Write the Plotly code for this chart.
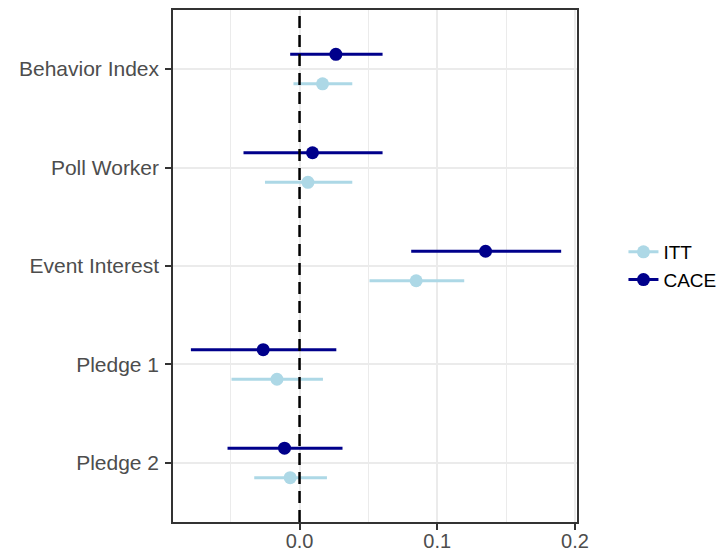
import plotly.graph_objects as go

# Outcomes, top to bottom
outcomes = ["Behavior Index", "Poll Worker", "Event Interest", "Pledge 1", "Pledge 2"]

# Intent-to-treat estimates and 95% intervals
itt_est = [0.0167, 0.0061, 0.0847, -0.0164, -0.0068]
itt_lo = [-0.0044, -0.0251, 0.0508, -0.0494, -0.0329]
itt_hi = [0.0383, 0.0383, 0.1196, 0.0170, 0.0199]

# Complier average causal effect estimates and 95% intervals
cace_est = [0.0264, 0.0094, 0.1351, -0.0264, -0.0109]
cace_lo = [-0.0068, -0.0407, 0.0811, -0.0789, -0.0523]
cace_hi = [0.0603, 0.0603, 0.1900, 0.0267, 0.0312]

x_ticks = [0.0, 0.1, 0.2]
x_tick_labels = ["0.0", "0.1", "0.2"]

ITT_COLOR = "#ADD8E6"
CACE_COLOR = "#00008B"
DODGE = 0.15
FONT_SIZE = 21

n = len(outcomes)
ypos = [n - 1 - i for i in range(n)]

fig = go.Figure()


def add_series(name, est, lo, hi, color, offset):
    ys = [y + offset for y in ypos]
    fig.add_trace(go.Scatter(
        x=est, y=ys, mode="markers", name=name, showlegend=False,
        marker=dict(color=color, size=13),
        error_x=dict(type="data", symmetric=False,
                     array=[h - e for h, e in zip(hi, est)],
                     arrayminus=[e - l for e, l in zip(est, lo)],
                     color=color, thickness=3, width=0),
    ))


add_series("CACE", cace_est, cace_lo, cace_hi, CACE_COLOR, DODGE)
add_series("ITT", itt_est, itt_lo, itt_hi, ITT_COLOR, -DODGE)

# legend keys (line + point)
for name, color in [("ITT", ITT_COLOR), ("CACE", CACE_COLOR)]:
    fig.add_trace(go.Scatter(
        x=[None], y=[None], mode="lines+markers", name=name,
        line=dict(color=color, width=3), marker=dict(color=color, size=13),
    ))

# reference line at zero
fig.add_shape(type="line", xref="x", yref="paper", x0=0, x1=0, y0=0, y1=1,
              line=dict(color="black", width=2.5, dash="12px,7px"), layer="above")

axis_common = dict(
    showgrid=True, gridcolor="#EBEBEB", gridwidth=2.2,
    zeroline=False, ticks="outside", ticklen=6, tickwidth=1.5, tickcolor="#333333",
    showline=True, linecolor="#333333", linewidth=1.5, mirror=True,
    automargin=False,
)

fig.update_layout(
    width=717, height=554,
    margin=dict(l=173, r=140, t=10, b=32, autoexpand=False),
    paper_bgcolor="white", plot_bgcolor="white",
    font=dict(family="Liberation Sans, Arial, sans-serif", size=FONT_SIZE, color="#4D4D4D"),
    legend=dict(x=1.115, xanchor="left", y=0.5, yanchor="middle",
                font=dict(size=19, color="black"), tracegroupgap=0,
                bgcolor="rgba(0,0,0,0)"),
    xaxis=dict(
        range=[-0.0919, 0.2015], tickvals=x_ticks, ticktext=x_tick_labels,
        minor=dict(dtick=0.05, tick0=0.05, showgrid=True, gridcolor="#EBEBEB", gridwidth=1.2),
        ticklabelstandoff=-6,
        tickfont=dict(size=20, color="#4D4D4D"),
        **axis_common,
    ),
    yaxis=dict(
        range=[-0.6, n - 0.4], tickvals=ypos, ticktext=outcomes,
        ticklabelstandoff=2,
        tickfont=dict(size=FONT_SIZE, color="#4D4D4D"),
        **axis_common,
    ),
)

fig.write_html("out.html")
